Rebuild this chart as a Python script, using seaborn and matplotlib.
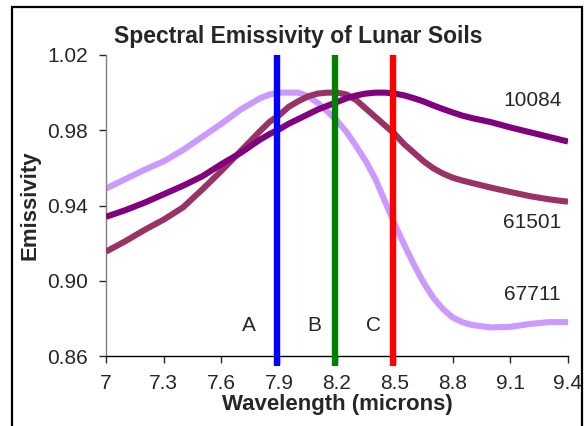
import matplotlib
matplotlib.use('agg')
import matplotlib.pyplot as plt
import seaborn as sns
from matplotlib.patches import Rectangle

sns.set_style('white')
plt.rcParams['font.family'] = ['Liberation Sans', 'DejaVu Sans']

# wavelength grid (microns)
wavelength = [7.0, 7.1, 7.2, 7.3, 7.4, 7.5, 7.6, 7.7, 7.8, 7.85, 7.9, 7.95, 8.0, 8.05, 8.1, 8.15,
              8.2, 8.25, 8.3, 8.35, 8.4, 8.45, 8.5, 8.55, 8.6, 8.65, 8.7, 8.75, 8.8, 8.85, 8.9,
              9.0, 9.1, 9.2, 9.3, 9.4]

# emissivity of each lunar soil sample
soil_67711 = [0.949, 0.954, 0.959, 0.9635, 0.9695, 0.9765, 0.9835, 0.991, 0.997, 0.999, 1.0, 1.0,
              1.0, 0.998, 0.9945, 0.990, 0.985, 0.979, 0.9715, 0.9635, 0.954, 0.942, 0.930, 0.919,
              0.9085, 0.899, 0.891, 0.885, 0.8805, 0.878, 0.8765, 0.8752, 0.8755, 0.877, 0.878, 0.878]
soil_61501 = [0.9155, 0.921, 0.927, 0.9325, 0.939, 0.9485, 0.9585, 0.969, 0.9795, 0.9845, 0.988,
              0.9925, 0.9955, 0.998, 0.9995, 1.0, 1.0, 0.999, 0.996, 0.9915, 0.987, 0.9825, 0.978,
              0.9725, 0.968, 0.9635, 0.9598, 0.957, 0.9548, 0.9533, 0.952, 0.9495, 0.9472, 0.945,
              0.9433, 0.942]
soil_10084 = [0.934, 0.9375, 0.9415, 0.946, 0.9505, 0.9555, 0.962, 0.968, 0.975, 0.978, 0.9805,
              0.9835, 0.986, 0.9885, 0.991, 0.993, 0.995, 0.997, 0.9985, 0.9995, 1.0, 1.0, 0.9995,
              0.9985, 0.997, 0.9953, 0.9932, 0.9913, 0.9895, 0.9878, 0.9865, 0.9843, 0.9815, 0.979,
              0.9765, 0.974]

# band markers
band_names = ['A', 'B', 'C']
band_pos = [7.89, 8.19, 8.49]
band_colors = ['#0000FF', '#008000', '#FF0000']

x_ticks = [7, 7.3, 7.6, 7.9, 8.2, 8.5, 8.8, 9.1, 9.4]
x_tick_labels = ['7', '7.3', '7.6', '7.9', '8.2', '8.5', '8.8', '9.1', '9.4']
y_ticks = [0.86, 0.90, 0.94, 0.98, 1.02]

fig = plt.figure(figsize=(5.85, 4.26), dpi=100)
ax = fig.add_axes([106 / 585, 70 / 426, 462 / 585, 301 / 426])

line_kw = dict(linewidth=4.4, solid_joinstyle='round', solid_capstyle='butt', ax=ax)
sns.lineplot(x=wavelength, y=soil_67711, color='#CC99FF', zorder=2, **line_kw)
sns.lineplot(x=wavelength, y=soil_61501, color='#993366', zorder=3, **line_kw)
sns.lineplot(x=wavelength, y=soil_10084, color='#800080', zorder=4, **line_kw)

for pos, c in zip(band_pos, band_colors):
    ax.plot([pos, pos], [0.8547, 1.02], color=c, linewidth=4.6, solid_capstyle='butt',
            clip_on=False, zorder=5)

for name, pos in zip(band_names, [7.742, 8.081, 8.388]):
    ax.text(pos, 0.8764, name, fontsize=15, ha='center', va='center')

ax.text(9.216, 0.9958, '10084', fontsize=15, ha='center', va='center')
ax.text(9.216, 0.9312, '61501', fontsize=15, ha='center', va='center')
ax.text(9.216, 0.8926, '67711', fontsize=15, ha='center', va='center')

ax.set_xlim(7, 9.4)
ax.set_ylim(0.86, 1.02)
ax.set_xticks(x_ticks)
ax.set_xticklabels(x_tick_labels)
ax.set_yticks(y_ticks)
ax.set_yticklabels(['%.2f' % v for v in y_ticks])

for s in ['top', 'right']:
    ax.spines[s].set_visible(False)
ax.spines['left'].set_color('#808080')
ax.spines['bottom'].set_color('#000000')
ax.spines['left'].set_linewidth(1.0)
ax.spines['bottom'].set_linewidth(1.0)
ax.tick_params(axis='both', direction='out', length=5, width=1, labelsize=15, pad=8,
               bottom=True, left=True)

ax.set_xlabel('Wavelength (microns)', fontsize=16, fontweight='bold', labelpad=1)
ax.set_ylabel('Emissivity', fontsize=16, fontweight='bold', labelpad=5)

fig.text(298 / 585, 1 - 36.5 / 426, 'Spectral Emissivity of Lunar Soils',
         fontsize=16.5, fontweight='bold', ha='center', va='center')

# outer chart border
fig.patches.append(Rectangle((12 / 585, -0.05), 570 / 585, 1 - 7 / 426 + 0.05,
                             transform=fig.transFigure, fill=False, edgecolor='black',
                             linewidth=1.6, clip_on=False))

fig.savefig('out.png', dpi=100)
